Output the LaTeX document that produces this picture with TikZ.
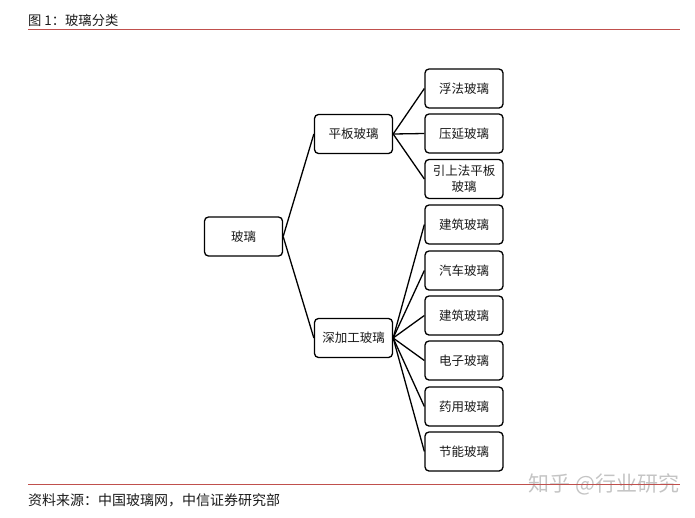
\documentclass[tikz,border=0pt]{standalone}
\usepackage{fontspec}
\setmainfont{Noto Sans CJK SC}
\usetikzlibrary{positioning}
\definecolor{raya}{HTML}{C0504D}
\definecolor{tinta}{HTML}{1A1A1A}
\definecolor{marca}{HTML}{C4C4C4}

\begin{document}
\begin{tikzpicture}[x=1pt,y=-1pt,font=\fontsize{12.5}{16}\selectfont,
  caja/.style={draw=black,line width=1.3pt,rounded corners=4pt,fill=white,minimum width=78pt,minimum height=39pt,text width=70pt,align=center,inner sep=2pt,text=tinta},
  rama/.style={line width=1.3pt,black}]
\useasboundingbox (0,0) rectangle (695,517);
% cabecera y pie
\node[anchor=base west,inner sep=0pt,text=tinta,font=\fontsize{13.3}{16}\selectfont] (titulo) at (28,25.5) {图 1：玻璃分类};
\draw[raya,line width=0.9pt] (28,29) -- (680,29);
\node[anchor=center,inner sep=0pt,text=marca,font=\fontsize{21}{24}\selectfont] (marca) at (604,484) {知乎 @行业研究};
\draw[raya,line width=0.9pt] (28,484) -- (680,484);
\node[anchor=base west,inner sep=0pt,text=tinta,font=\fontsize{14}{16}\selectfont] (fuente) at (28,505) {资料来源：中国玻璃网，中信证券研究部};
% arbol
\node[caja] (vidrio) at (243.5,236.5) {玻璃};
\node[caja] (plano) at (353.5,134) {平板玻璃};
\node[caja] (proc) at (353.5,338) {深加工玻璃};
\foreach \n/\y/\t in {p1/88.5/浮法玻璃, p2/133.5/压延玻璃, p3/179/引上法平板\\玻璃}{
  \node[caja] (\n) at (464,\y) {\t};
  \draw[rama] (plano.east) -- (\n.west);
}
\foreach \n/\y/\t in {d1/224.5/建筑玻璃, d2/270.5/汽车玻璃, d3/315.5/建筑玻璃, d4/360.5/电子玻璃, d5/406.5/药用玻璃, d6/451.5/节能玻璃}{
  \node[caja] (\n) at (464,\y) {\t};
  \draw[rama] (proc.east) -- (\n.west);
}
\draw[rama] (vidrio.east) -- (plano.west);
\draw[rama] (vidrio.east) -- (proc.west);
\end{tikzpicture}
\end{document}
